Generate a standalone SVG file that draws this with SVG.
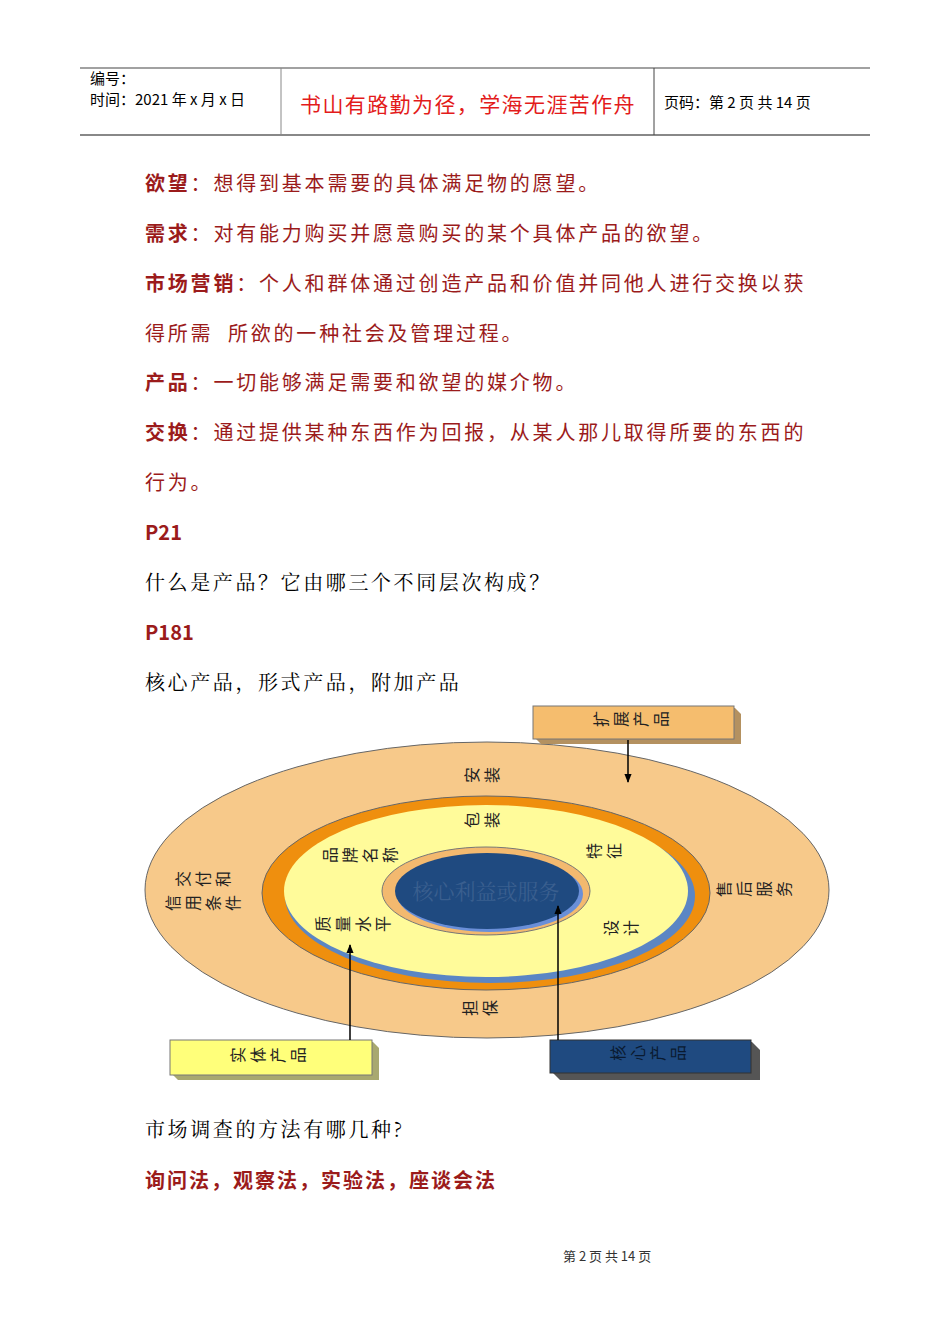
<svg xmlns="http://www.w3.org/2000/svg" width="950" height="1344" viewBox="0 0 950 1344">
<style>
.s{font-family:"Noto Sans CJK SC",sans-serif;font-size:20px;letter-spacing:2.8px;fill:#000}
.r{fill:#9b1b1b}
.b{font-weight:bold}
.sf{font-family:"Noto Serif CJK SC","Liberation Serif","Noto Sans CJK SC",serif;font-size:20px;letter-spacing:2.6px}
.h{font-family:"Noto Sans CJK SC",sans-serif;font-size:15px}
.l{font-family:"Noto Sans CJK SC",sans-serif;font-size:16px;letter-spacing:4px;fill:#222;writing-mode:tb;text-anchor:middle}
.ln{stroke:#000;stroke-width:1.5;fill:none}
</style>
<defs>
<marker id="a" viewBox="0 0 10 10" refX="9" refY="5" markerWidth="6" markerHeight="6" orient="auto"><path d="M0,1L10,5L0,9z" fill="#000"/></marker>
</defs>
<rect width="950" height="1344" fill="#fff"/>
<g id="header">
<line x1="80" y1="68" x2="870" y2="68" stroke="#444" stroke-width="1.2"/>
<line x1="80" y1="135" x2="870" y2="135" stroke="#888" stroke-width="2"/>
<line x1="281" y1="68" x2="281" y2="135" stroke="#888"/>
<line x1="654" y1="68" x2="654" y2="135" stroke="#444"/>
<text class="h" x="90" y="84">编号：</text>
<text class="h" x="90" y="105">时间：2021 年 x 月 x 日</text>
<text class="h" x="300" y="112" style="font-size:21px;letter-spacing:1.4px;fill:#e31b1b">书山有路勤为径，学海无涯苦作舟</text>
<text class="h" x="664" y="108">页码：第 2 页  共 14 页</text>
</g>
<g id="body">
<text class="s" x="145" y="191"><tspan class="r b">欲望</tspan><tspan class="r">：想得到基本需要的具体满足物的愿望。</tspan></text>
<text class="s" x="145" y="241"><tspan class="r b">需求</tspan><tspan class="r">：对有能力购买并愿意购买的某个具体产品的欲望。</tspan></text>
<text class="s" x="145" y="291"><tspan class="r b">市场营销</tspan><tspan class="r">：个人和群体通过创造产品和价值并同他人进行交换以获</tspan></text>
<text class="s r" x="145" y="341" xml:space="preserve">得所需  所欲的一种社会及管理过程。</text>
<text class="s" x="145" y="390"><tspan class="r b">产品</tspan><tspan class="r">：一切能够满足需要和欲望的媒介物。</tspan></text>
<text class="s" x="145" y="440"><tspan class="r b">交换</tspan><tspan class="r">：通过提供某种东西作为回报，从某人那儿取得所要的东西的</tspan></text>
<text class="s r" x="145" y="490">行为。</text>
<text class="s r b" x="145" y="540" style="letter-spacing:0">P21</text>
<text class="sf" x="145" y="590">什么是产品？它由哪三个不同层次构成？</text>
<text class="s r b" x="145" y="640" style="letter-spacing:0">P181</text>
<text class="sf" x="145" y="690">核心产品，形式产品，附加产品</text>
<text class="sf" x="145" y="1137">市场调查的方法有哪几种?</text>
<text class="s r b" x="145" y="1188" style="letter-spacing:2px">询问法，观察法，实验法，座谈会法</text>
<text class="h" x="563" y="1261" style="font-size:13px;fill:#333">第 2 页 共 14 页</text>
</g>
<g id="outer"><ellipse cx="487" cy="890" rx="342" ry="148" fill="#f7c98a" stroke="#666" stroke-width="1"/></g>
<g id="orange"><ellipse cx="486" cy="893" rx="224" ry="97" fill="#ef8f0e" stroke="#666"/>
<ellipse cx="490" cy="896" rx="205" ry="87" fill="#5b86c4"/></g>
<g id="yellow"><ellipse cx="486" cy="891" rx="202" ry="86" fill="#fffb9a"/></g>
<g id="core"><ellipse cx="486" cy="891" rx="104" ry="44" fill="#f3b96f" stroke="#777"/>
<ellipse cx="490" cy="894" rx="93" ry="38" fill="#6a8fd8"/>
<ellipse cx="487" cy="891" rx="92" ry="38" fill="#1f4a80"/>
<text x="486" y="899" text-anchor="middle" style="font-family:'Noto Serif CJK SC','Noto Sans CJK SC',serif;font-size:21px;fill:#3a5f8f">核心利益或服务</text></g>
<g id="labels">
<text class="l" transform="translate(484,775) rotate(-90)">安装</text>
<text class="l" transform="translate(484,820) rotate(-90)">包装</text>
<text class="l" transform="translate(362,855) rotate(-90)">品牌名称</text>
<text class="l" transform="translate(606,851) rotate(-90)">特征</text>
<text class="l" transform="translate(205,879) rotate(-90)">交付和</text>
<text class="l" transform="translate(205,903) rotate(-90)">信用条件</text>
<text class="l" transform="translate(756,889) rotate(-90)">售后服务</text>
<text class="l" transform="translate(355,924) rotate(-90)">质量水平</text>
<text class="l" transform="translate(623,928) rotate(-90)">设计</text>
<text class="l" transform="translate(482,1008) rotate(-90)">担保</text>
</g>
<g id="box1"><path d="M535,708h200l6,6v30h-200l-6,-6z" fill="#b49160"/><rect x="533" y="706" width="201" height="33" fill="#f5bd6e" stroke="#777"/><text class="l" transform="translate(633,719) rotate(-90)">扩展产品</text></g>
<g id="box2"><path d="M172,1042h201l6,6v32h-201l-6,-6z" fill="#a8a870"/><rect x="170" y="1040" width="202" height="35" fill="#ffff7a" stroke="#777"/><text class="l" transform="translate(270,1055) rotate(-90)">实体产品</text></g>
<g id="box3"><path d="M552,1042h200l8,8v30h-200l-8,-8z" fill="#555"/><rect x="550" y="1040" width="201" height="33" fill="#1f4a80" stroke="#333"/><text class="l" transform="translate(650,1053) rotate(-90)" style="fill:#0a1a30">核心产品</text></g>
<g id="connectors">
<line class="ln" x1="628" y1="740" x2="628" y2="782" marker-end="url(#a)"/>
<line class="ln" x1="350" y1="1040" x2="350" y2="945" marker-end="url(#a)"/>
<line class="ln" x1="558" y1="1040" x2="558" y2="906" marker-end="url(#a)"/>
</g>
</svg>
